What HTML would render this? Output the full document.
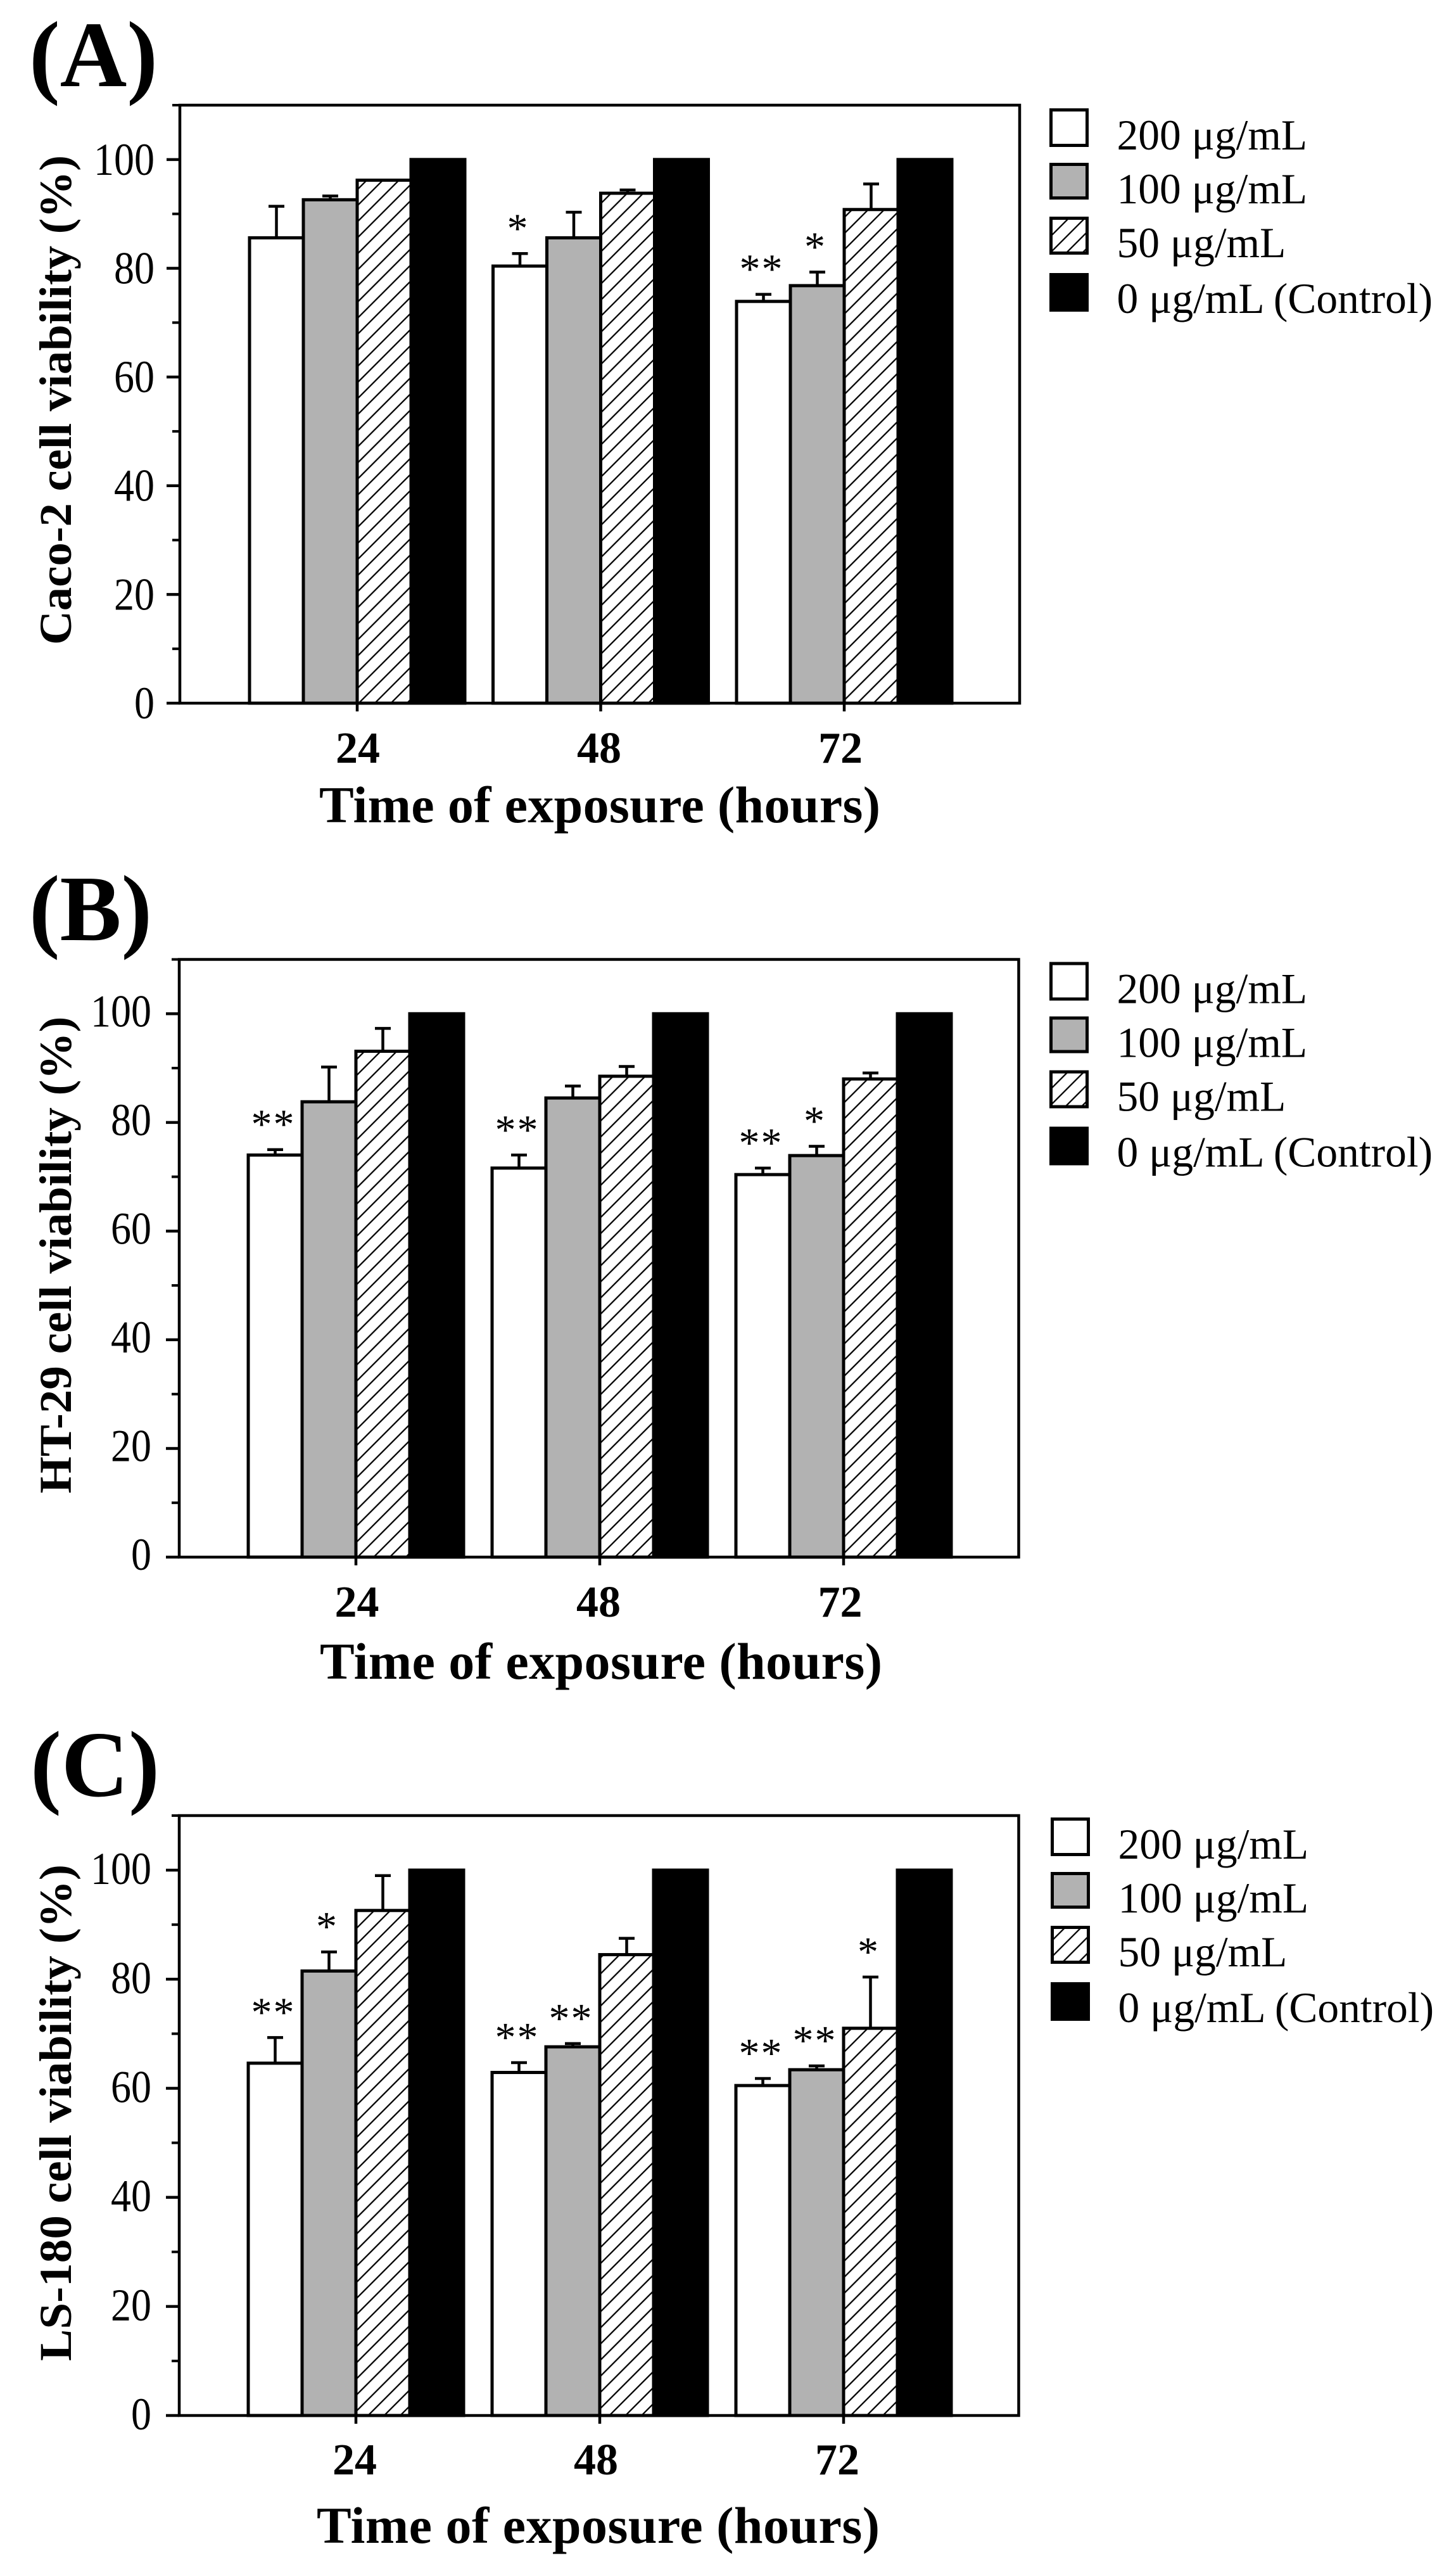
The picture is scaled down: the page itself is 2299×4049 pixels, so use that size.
<!DOCTYPE html>
<html lang="en">
<head>
<meta charset="utf-8">
<title>Cell viability after exposure</title>
<style>
html,body{margin:0;padding:0;background:#fff;}
svg{display:block;}
text{font-family:"Liberation Serif","Times New Roman",serif;fill:#000;}
</style>
</head>
<body>
<svg id="figure" xmlns="http://www.w3.org/2000/svg" width="2299" height="4049" viewBox="0 0 2299 4049">
<defs>
<pattern id="hatch" patternUnits="userSpaceOnUse" width="25.4" height="25.4">
<rect width="25.4" height="25.4" fill="#fff"></rect>
<path d="M-2,2 L2,-2 M0,25.4 L25.4,0 M23.4,27.4 L27.4,23.4" stroke="#000" stroke-width="2.3" fill="none"></path>
</pattern>
</defs>
</svg>
<script>
const timeLabels = ['24', '48', '72'];
const concentrationLabels = ['200 μg/mL', '100 μg/mL', '50 μg/mL', '0 μg/mL (Control)'];
const yTickLabels = [0, 20, 40, 60, 80, 100];
const yMinorTicks = [10, 30, 50, 70, 90, 110];
const seriesFills = ['#fff', '#b2b2b2', 'url(#hatch)', '#000'];
const xAxisTitle = 'Time of exposure (hours)';

const cacoMeans200 = [85.6, 80.4, 73.9];
const cacoMeans100 = [92.6, 85.6, 76.8];
const cacoMeans50 = [96.2, 93.8, 90.8];
const cacoMeans0 = [100, 100, 100];
const cacoErrors200 = [5.8, 2.3, 1.3];
const cacoErrors100 = [0.7, 4.7, 2.5];
const cacoErrors50 = [0, 0.6, 4.7];
const cacoStars200 = ['', '*', '**'];
const cacoStars100 = ['', '', '*'];
const cacoStars50 = ['', '', ''];

const htMeans200 = [74.0, 71.6, 70.4];
const htMeans100 = [83.8, 84.5, 73.9];
const htMeans50 = [93.1, 88.5, 88.0];
const htMeans0 = [100, 100, 100];
const htErrors200 = [1.0, 2.4, 1.2];
const htErrors100 = [6.4, 2.2, 1.7];
const htErrors50 = [4.2, 1.8, 1.1];
const htStars200 = ['**', '**', '**'];
const htStars100 = ['', '', '*'];
const htStars50 = ['', '', ''];

const lsMeans200 = [64.6, 62.9, 60.5];
const lsMeans100 = [81.5, 67.6, 63.4];
const lsMeans50 = [92.6, 84.5, 71.0];
const lsMeans0 = [100, 100, 100];
const lsErrors200 = [4.7, 1.8, 1.3];
const lsErrors100 = [3.5, 0.6, 0.7];
const lsErrors50 = [6.4, 3.0, 9.4];
const lsStars200 = ['**', '**', '**'];
const lsStars100 = ['*', '**', '**'];
const lsStars50 = ['', '', '*'];

const svg = document.getElementById('figure');
const NS = 'http://www.w3.org/2000/svg';

function make(tag, attrs, parent, content) {
  const node = document.createElementNS(NS, tag);
  for (const key in attrs) node.setAttribute(key, attrs[key]);
  if (content !== undefined) node.textContent = content;
  parent.appendChild(node);
  return node;
}

function drawPanel(p) {
  const g = make('g', {}, svg);
  
  

  const yScale = function (v) { return p.bottom - (v / 110) * (p.bottom - p.top); };
  const xScale = function (i) { return p.center0 + i * p.step; };
  const barW = 85;

  // panel letter
  const letter = make('text', { x: p.letterX, y: p.letterY, 'font-size': 148, 'font-weight': 'bold', textLength: p.letterLen, lengthAdjust: 'spacingAndGlyphs' }, g, p.letter);
  
  

  // bars, error bars, significance marks
  p.means.forEach(function (series, s) {
    series.forEach(function (value, i) {
      const left = xScale(i) + (s - 2) * barW;
      const mid = left + barW / 2;
      const err = s < 3 ? p.errors[s][i] : 0;
      if (err > 0) {
        const stem = make('line', { x1: mid, x2: mid, y1: yScale(value), y2: yScale(value + err), stroke: '#000', 'stroke-width': 4.5 }, g);
        
        
        const cap = make('line', { x1: mid - 12.5, x2: mid + 12.5, y1: yScale(value + err), y2: yScale(value + err), stroke: '#000', 'stroke-width': 4.5 }, g);
        
        
      }
      const bar = make('rect', { x: left, y: yScale(value), width: barW, height: p.bottom - yScale(value), fill: seriesFills[s], stroke: '#000', 'stroke-width': 5 }, g);
      
      
      const mark = s < 3 ? p.stars[s][i] : '';
      if (mark) {
        const star = make('text', { x: mid - 3, y: yScale(value + err) - 46 + 28, 'font-size': 66, 'text-anchor': 'middle', 'letter-spacing': 2 }, g, mark);
        
        
      }
    });
  });

  // frame
  const frame = make('rect', { x: p.left, y: p.top, width: p.right - p.left, height: p.bottom - p.top, fill: 'none', stroke: '#000', 'stroke-width': 4.5 }, g);
  
  

  // y ticks
  yTickLabels.forEach(function (v) {
    const tick = make('line', { x1: p.left - 21, x2: p.left, y1: yScale(v), y2: yScale(v), stroke: '#000', 'stroke-width': 4.5 }, g);
    
    
    const label = make('text', { x: p.yLabelRight, y: yScale(v) + 24 + p.yLabelDy, 'font-size': 72, 'text-anchor': 'end', textLength: String(v).length * 32, lengthAdjust: 'spacingAndGlyphs' }, g, String(v));
    
    
  });
  yMinorTicks.forEach(function (v) {
    const minor = make('line', { x1: p.left - 12, x2: p.left, y1: yScale(v), y2: yScale(v), stroke: '#000', 'stroke-width': 4 }, g);
    
    
  });

  // x ticks
  timeLabels.forEach(function (t, i) {
    const tick = make('line', { x1: xScale(i), x2: xScale(i), y1: p.bottom, y2: p.bottom + 13, stroke: '#000', 'stroke-width': 4.5 }, g);
    
    
    const label = make('text', { x: p.xLabel0 + i * p.xLabelStep, y: p.xLabelY, 'font-size': 70, 'font-weight': 'bold', 'text-anchor': 'middle' }, g, t);
    
    
  });

  // axis titles
  const xTitle = make('text', { x: p.xTitleX, y: p.xTitleY, 'font-size': 82, 'font-weight': 'bold', textLength: p.xTitleLen, lengthAdjust: 'spacing' }, g, xAxisTitle);
  
  

  const yTitle = make('text', { x: 112, y: p.yTitleMid, 'font-size': 72, 'font-weight': 'bold', 'text-anchor': 'middle', textLength: p.yTitleLen, lengthAdjust: 'spacingAndGlyphs', transform: 'rotate(-90 112 ' + p.yTitleMid + ')' }, g, p.yTitle);
  
  

  // legend
  const swatchTops = [7.5, 93.5, 178.5, 267.5];
  const swatchHeights = [56, 53, 55, 56];
  const textOffsets = [70, 155, 240, 328];
  concentrationLabels.forEach(function (name, s) {
    const swatch = make('rect', { x: p.legendX, y: p.top + swatchTops[s] + p.legendDy, width: 57, height: swatchHeights[s], fill: seriesFills[s], stroke: '#000', 'stroke-width': 5 }, g);
    
    
    const entry = make('text', { x: p.legendX + 104, y: p.top + textOffsets[s] + p.legendDy, 'font-size': 67.5 }, g, name);
    
    
  });
}

drawPanel({
  id: 'caco-2', letter: '(A)', letterX: 46, letterY: 136, letterLen: 203,
  left: 284, right: 1610, top: 166, bottom: 1110,
  center0: 564, step: 384.5,
  means: [cacoMeans200, cacoMeans100, cacoMeans50, cacoMeans0],
  errors: [cacoErrors200, cacoErrors100, cacoErrors50],
  stars: [cacoStars200, cacoStars100, cacoStars50],
  yLabelRight: 244, yLabelDy: 0,
  xLabel0: 565, xLabelStep: 381, xLabelY: 1204,
  xTitleX: 504, xTitleY: 1298, xTitleLen: 886,
  yTitle: 'Caco-2 cell viability (%)', yTitleMid: 631.5, yTitleLen: 773,
  legendX: 1659.5, legendDy: 0
});

drawPanel({
  id: 'ht-29', letter: '(B)', letterX: 46, letterY: 1484, letterLen: 194,
  left: 283, right: 1608.5, top: 1514.5, bottom: 2458,
  center0: 562, step: 385,
  means: [htMeans200, htMeans100, htMeans50, htMeans0],
  errors: [htErrors200, htErrors100, htErrors50],
  stars: [htStars200, htStars100, htStars50],
  yLabelRight: 239, yLabelDy: -4,
  xLabel0: 563.5, xLabelStep: 381.5, xLabelY: 2552,
  xTitleX: 505, xTitleY: 2650, xTitleLen: 888,
  yTitle: 'HT-29 cell viability (%)', yTitleMid: 1981, yTitleLen: 753,
  legendX: 1659.5, legendDy: -1
});

drawPanel({
  id: 'ls-180', letter: '(C)', letterX: 48, letterY: 2835, letterLen: 204,
  left: 283, right: 1608.5, top: 2866, bottom: 3813,
  center0: 562, step: 385,
  means: [lsMeans200, lsMeans100, lsMeans50, lsMeans0],
  errors: [lsErrors200, lsErrors100, lsErrors50],
  stars: [lsStars200, lsStars100, lsStars50],
  yLabelRight: 239, yLabelDy: -2,
  xLabel0: 560, xLabelStep: 381, xLabelY: 3906,
  xTitleX: 500, xTitleY: 4014, xTitleLen: 889,
  yTitle: 'LS-180 cell viability (%)', yTitleMid: 3335, yTitleLen: 784,
  legendX: 1661.5, legendDy: -2
});
</script>
</body>
</html>
